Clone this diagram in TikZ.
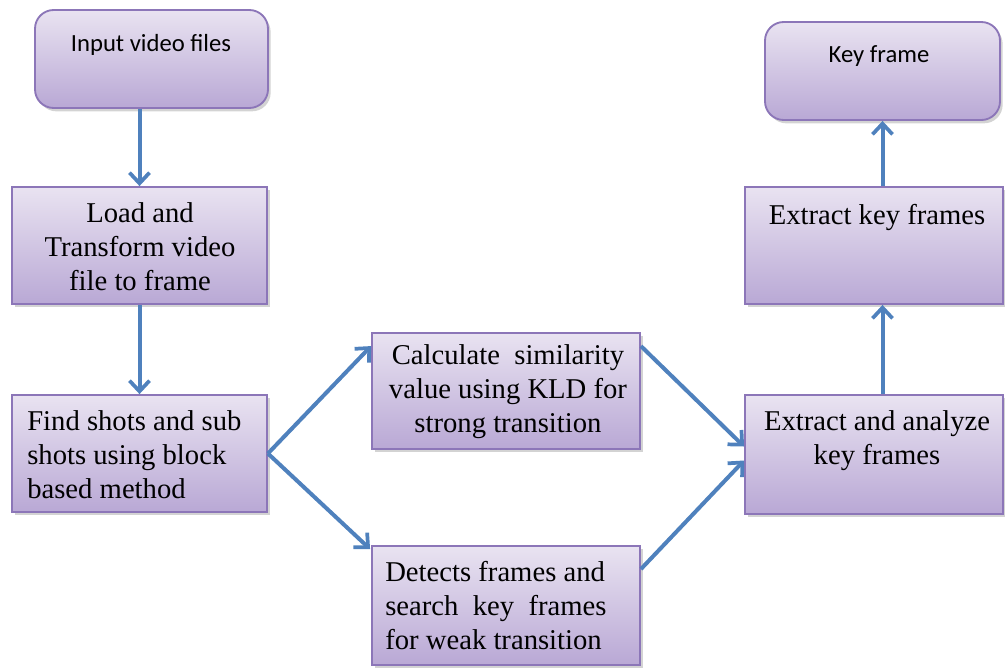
\documentclass[tikz,border=0pt]{standalone}
\usepackage{fontspec}
\setmainfont{Liberation Serif}
\newfontfamily\timesf{Liberation Serif}
\newfontfamily\calib{Carlito}
\usetikzlibrary{arrows.meta,shadows,calc}
\newlength\pxu
\setlength\pxu{0.75pt}
\definecolor{boxtop}{HTML}{E9E3F1}
\definecolor{boxbot}{HTML}{B9A8D5}
\definecolor{boxline}{HTML}{8C76B8}
\definecolor{arrowc}{HTML}{4F81BD}
\tikzset{
  x=0.75pt, y=-0.75pt,
  procbox/.style={draw=boxline, line width=1.4pt, top color=boxtop, bottom color=boxbot,
    drop shadow={opacity=0.35, shadow xshift=2pt, shadow yshift=-2.5pt}, inner sep=0pt},
  termbox/.style={procbox, rounded corners=14pt},
  serift/.style={font=\timesf\fontsize{21.5}{25.5}\selectfont, inner sep=0pt},
  sanst/.style={font=\calib\fontsize{18.5}{22}\selectfont, inner sep=0pt},
  flow/.style={draw=arrowc, line width=3pt, -{Straight Barb[length=8pt, width=15pt, line width=2.8pt]}},
}
\begin{document}
\begin{tikzpicture}
\useasboundingbox (0,0) rectangle (1005,668);
% boxes
\node[termbox, minimum width=233\pxu, minimum height=98\pxu] (in) at (151.5,59) {};
\node[procbox, minimum width=255\pxu, minimum height=117\pxu] (load) at (139.5,245.5) {};
\node[procbox, minimum width=255\pxu, minimum height=117\pxu] (find) at (139.5,453.5) {};
\node[procbox, minimum width=268\pxu, minimum height=116\pxu] (calc) at (506,391) {};
\node[procbox, minimum width=268\pxu, minimum height=119\pxu] (det) at (506,605.5) {};
\node[procbox, minimum width=258\pxu, minimum height=119\pxu] (ea) at (874,454.5) {};
\node[procbox, minimum width=258\pxu, minimum height=117\pxu] (ek) at (874,245.5) {};
\node[termbox, minimum width=235\pxu, minimum height=98\pxu] (kf) at (882.5,71) {};
% texts
\node[sanst] (tin) at (151,45) {Input video files};
\node[serift, align=center] (tload) at (140,247) {Load and\\Transform video\\file to frame};
\node[serift, align=left, anchor=west] (tfind) at (27,455) {Find shots and sub\\shots using block\\based method};
\node[serift, align=center] (tcalc) at (508,392) {Calculate \ similarity\\value using KLD for\\strong transition};
\node[serift, align=left, anchor=west] (tdet) at (385,606) {Detects frames and\\search \ key \ frames\\for weak transition};
\node[serift, align=center] (tea) at (877,441) {Extract and analyze\\key frames};
\node[serift] (tek) at (877,217) {Extract key frames};
\node[sanst] (tkf) at (879,56) {Key frame};
% connectors
\coordinate (calcin) at ($(calc.north west)+(0,14)$);
\coordinate (calcout) at ($(calc.north east)+(0,14)$);
\coordinate (detin) at ($(det.north west)+(-1,4)$);
\coordinate (detout) at ($(det.north east)+(0,24)$);
\coordinate (eain1) at ($(ea.west)+(0,-8)$);
\coordinate (eain2) at ($(ea.west)+(0,6)$);
\draw[flow] (in.south -| load.north) -- (load.north);
\draw[flow] (load.south) -- (find.north);
\draw[flow] (find.east) -- (calcin);
\draw[flow] (find.east) -- (detin);
\draw[flow] (calcout) -- (eain1);
\draw[flow] (detout) -- (eain2);
\draw[flow] (ea.north -| kf.south) -- (ek.south -| kf.south);
\draw[flow] (ek.north -| kf.south) -- (kf.south);
\end{tikzpicture}
\end{document}
